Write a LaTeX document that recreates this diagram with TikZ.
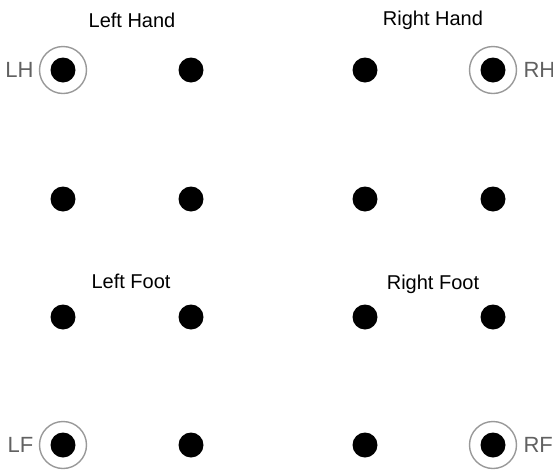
\documentclass[tikz,border=0pt]{standalone}
\usepackage{fontspec}
\setmainfont{Liberation Sans}
\usepackage{tikz}
\usetikzlibrary{positioning}

\begin{document}
\begin{tikzpicture}[
  x=0.5pt, y=-0.5pt,
  dot/.style={circle, fill=black, minimum size=12.5pt, inner sep=0pt},
  ring/.style={circle, draw=black!40, line width=0.7pt,
               minimum size=23.5pt, inner sep=0pt},
  limblabel/.style={font=\fontsize{11}{13}\selectfont, text=black!62, inner sep=0pt},
  grouptitle/.style={font=\fontsize{10}{12}\selectfont, text=black}
]
  \useasboundingbox (0,0) rectangle (553,472);

  % 4x4 grid of dots
  \foreach \c/\x in {1/63, 2/191, 3/365, 4/493}{
    \foreach \r/\y in {1/70, 2/199, 3/317, 4/445}{
      \node[dot] (d\r\c) at (\x,\y) {};
    }
  }

  % Group titles
  \node[grouptitle] (tlh) at (132, 20)  {Left Hand};
  \node[grouptitle] (trh) at (433, 20)  {Right Hand};
  \node[grouptitle] (tlf) at (131, 281) {Left Foot};
  \node[grouptitle] (trf) at (433, 284) {Right Foot};

  % Start positions: rings and short labels
  \node[ring] (rlh) at (d11) {};
  \node[ring] (rrh) at (d14) {};
  \node[ring] (rlf) at (d41) {};
  \node[ring] (rrf) at (d44) {};

  \node[limblabel, left=2.5pt of rlh]  {LH};
  \node[limblabel, right=3pt of rrh]   {RH};
  \node[limblabel, left=2.5pt of rlf]  {LF};
  \node[limblabel, right=3pt of rrf]   {RF};
\end{tikzpicture}
\end{document}
